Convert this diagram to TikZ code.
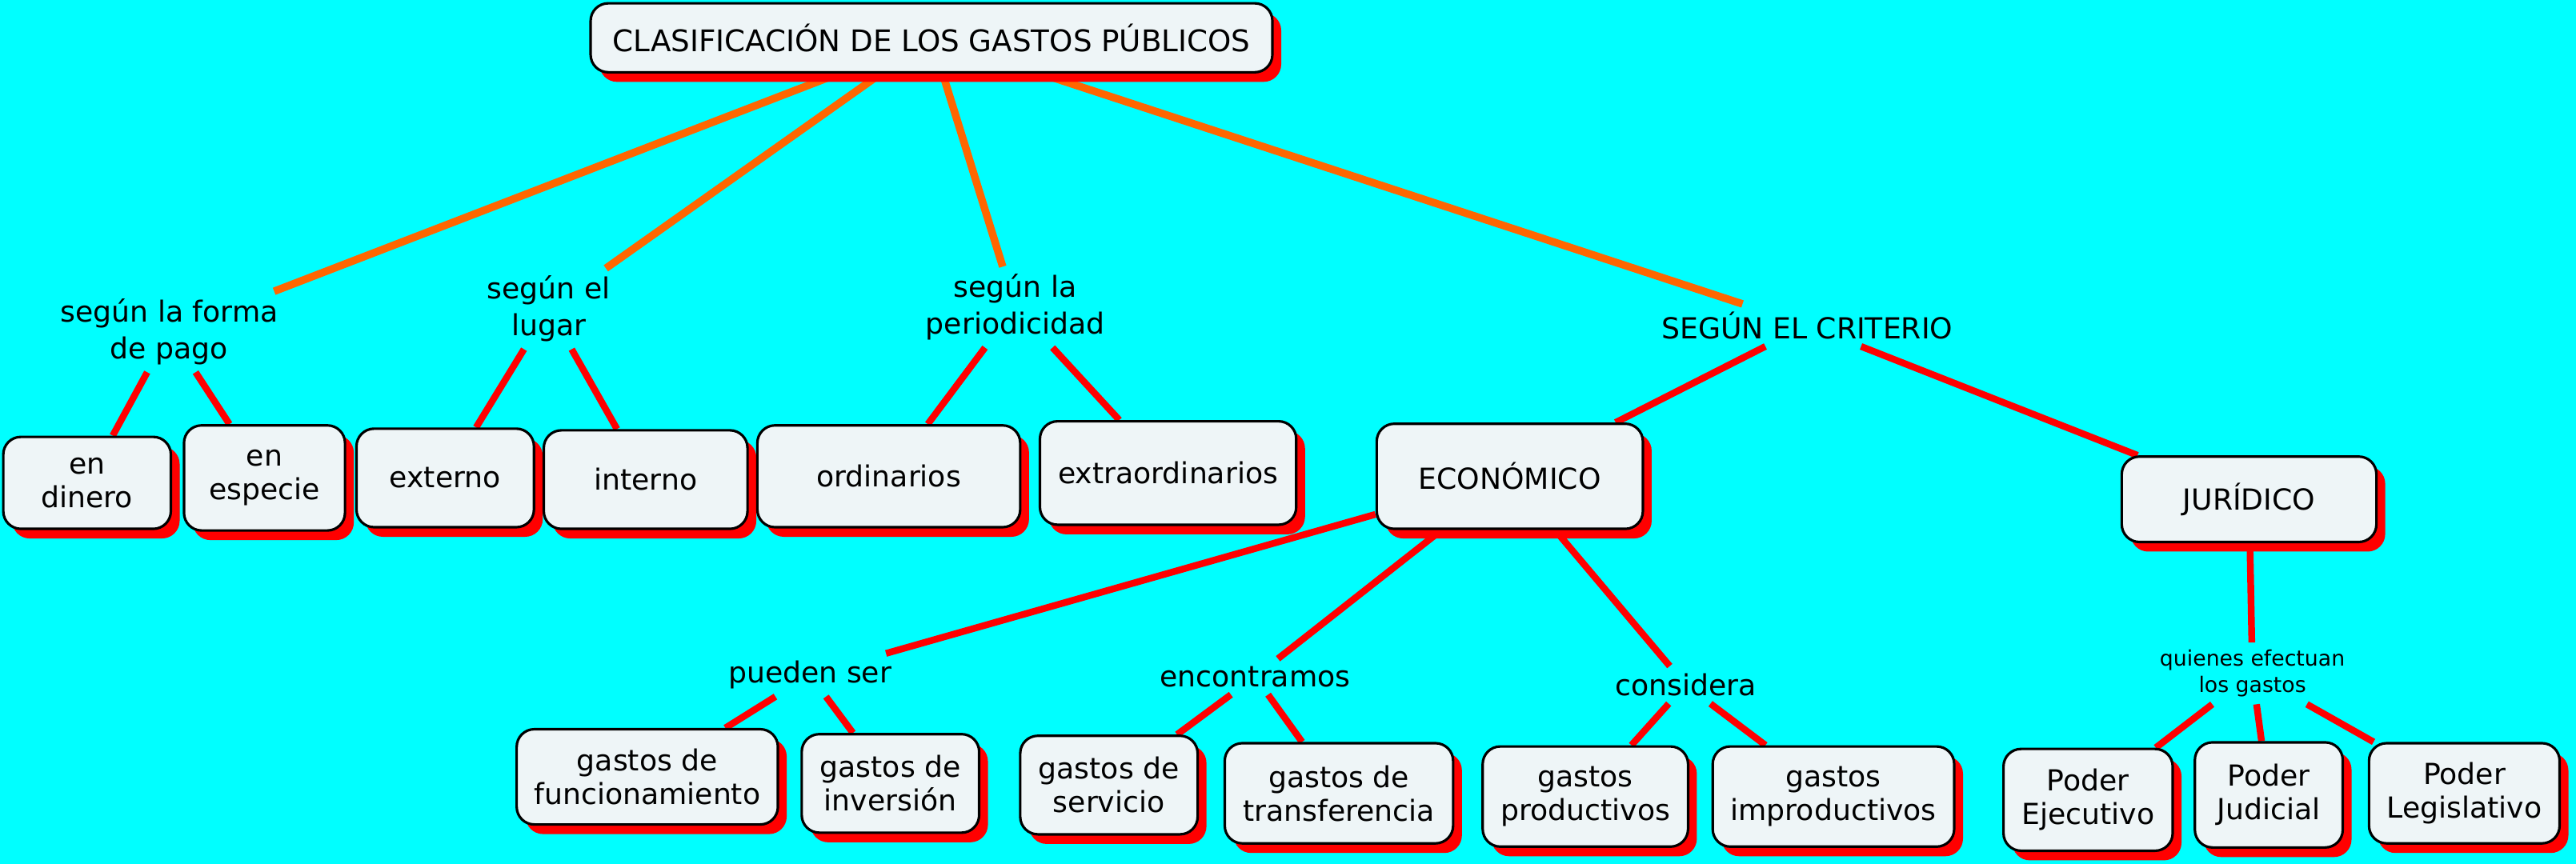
\documentclass[tikz,border=0pt]{standalone}
\usepackage{fontspec}
\setmainfont{DejaVu Sans}
\usetikzlibrary{shadows}

\newcommand{\pxu}{0.02053cm}
\definecolor{skycyan}{RGB}{0,255,255}
\definecolor{boxfill}{RGB}{238,245,247}
\definecolor{linkorange}{RGB}{255,102,0}
\pgfdeclarelayer{bg}
\pgfdeclarelayer{links}
\pgfsetlayers{bg,links,main}

\begin{document}
\begin{tikzpicture}[
  x=\pxu, y=-\pxu,
  concept/.style 2 args={rectangle, rounded corners=0.22cm, draw=black, line width=0.9pt,
    fill=boxfill, align=center, inner sep=2pt,
    minimum width=#1*\pxu, minimum height=#2*\pxu,
    font=\fontsize{10.3}{12}\selectfont,
    drop shadow={fill=red, opacity=1, shadow xshift=0.11cm, shadow yshift=-0.12cm}},
  linklabel/.style={align=center, inner sep=2.5pt, font=\fontsize{10.3}{13}\selectfont},
  toplink/.style={line width=2.7pt, linkorange},
  link/.style={line width=2.4pt, red}
]

% Background and page size
\begin{pgfonlayer}{bg}
  \fill[skycyan] (0,0) rectangle (1568,526);
\end{pgfonlayer}
\useasboundingbox (0,0) rectangle (1568,526);

% Title
\node[concept={415}{42}, font=\fontsize{10.6}{13}\selectfont] (title) at (567,23) {CLASIFICACIÓN DE LOS GASTOS PÚBLICOS};

% First level: linking phrases
\node[linklabel] (forma) at (103,202) {según la forma\\de pago};
\node[linklabel] (lugar) at (334,188) {según el\\lugar};
\node[linklabel] (periodo) at (618,187) {según la\\periodicidad};
\node[linklabel] (criterio) at (1100,198) {SEGÚN EL CRITERIO};

% Row 1: concepts
\node[concept={102}{56}] (dinero) at (53,294) {en\\dinero};
\node[concept={98}{64}] (especie) at (161,291) {en\\especie};
\node[concept={108}{60}] (externo) at (271,291) {externo};
\node[concept={124}{60}] (interno) at (393,292) {interno};
\node[concept={160}{62}] (ordin) at (541,290) {ordinarios};
\node[concept={156}{63}] (extra) at (711,288) {extraordinarios};
\node[concept={162}{64}] (econ) at (919,290) {ECONÓMICO};
\node[concept={155}{52}] (jurid) at (1369,304) {JURÍDICO};

% Second level: linking phrases
\node[linklabel] (pueden) at (493,411) {pueden ser};
\node[linklabel] (encontr) at (764,412) {encontramos};
\node[linklabel] (considera) at (1026,417) {considera};
\node[linklabel, font=\fontsize{7.6}{9.2}\selectfont] (quienes) at (1371,410) {quienes efectuan\\los gastos};

% Row 2: concepts
\node[concept={159}{58}] (funcion) at (394,473) {gastos de\\funcionamiento};
\node[concept={108}{60}] (inversion) at (542,477) {gastos de\\inversión};
\node[concept={108}{60}] (servicio) at (675,478) {gastos de\\servicio};
\node[concept={139}{61}] (transfer) at (815,483) {gastos de\\transferencia};
\node[concept={125}{61}] (product) at (965,485) {gastos\\productivos};
\node[concept={147}{61}] (improd) at (1116,485) {gastos\\improductivos};
\node[concept={103}{62}] (ejec) at (1271,487) {Poder\\Ejecutivo};
\node[concept={90}{64}] (judic) at (1381,484) {Poder\\Judicial};
\node[concept={116}{61}] (legis) at (1500,483) {Poder\\Legislativo};

% Connectors
\begin{pgfonlayer}{links}
  \foreach \j in {forma, lugar, periodo, criterio} {
    \draw[toplink] (title) -- (\j);
  }
  \foreach \i/\j in {forma/dinero, forma/especie, lugar/externo, lugar/interno,
      periodo/ordin, periodo/extra, criterio/econ, criterio/jurid,
      econ/pueden, econ/encontr, econ/considera, jurid/quienes,
      pueden/funcion, pueden/inversion, encontr/servicio, encontr/transfer,
      considera/product, considera/improd,
      quienes/ejec, quienes/judic, quienes/legis} {
    \draw[link] (\i) -- (\j);
  }
\end{pgfonlayer}

\end{tikzpicture}
\end{document}
